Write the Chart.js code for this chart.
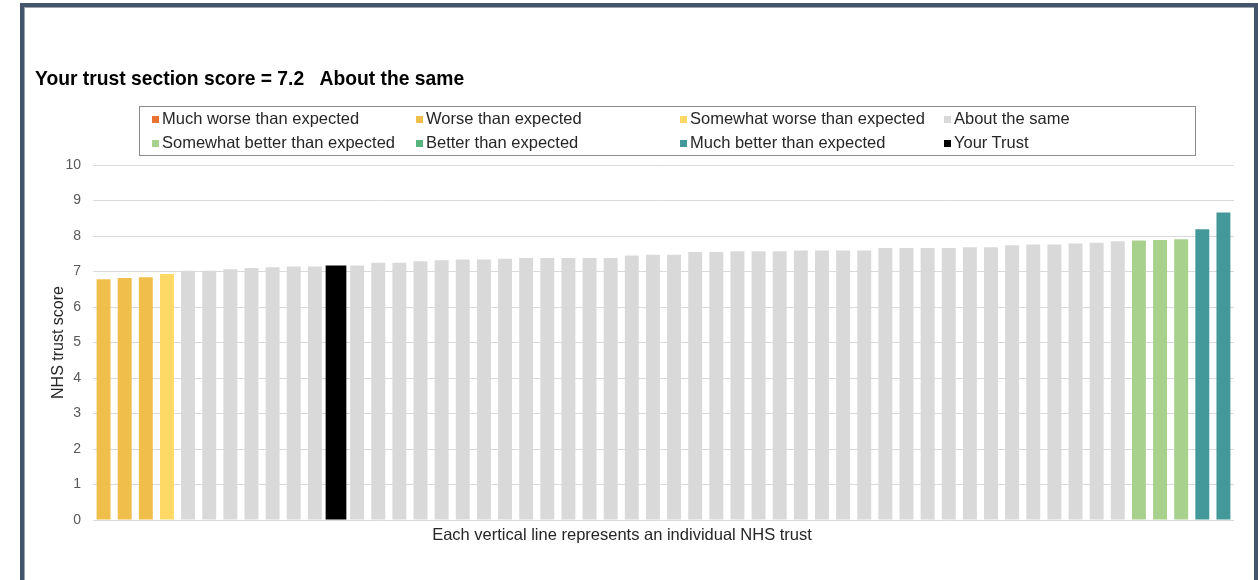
<!DOCTYPE html>
<html>
<head>
<meta charset="utf-8">
<title>NHS trust section score</title>
<script src="https://cdn.jsdelivr.net/npm/chart.js@4"></script>
<style>
    body { margin: 0; width: 1258px; height: 580px; overflow: hidden; background: #fff; font-family: "Liberation Sans", Arial, sans-serif; }
    .frame { position: absolute; left: 20px; top: 3px; width: 1230px; height: 620px; border: 4px solid #44546A; box-shadow: inset 1px 1px 0 #9AA3AE; }
    #chartTitle { position: absolute; left: 35px; top: 68px; font-size: 19.3px; font-weight: bold; color: #000; white-space: pre; }
    #legendBox { position: absolute; left: 139px; top: 106px; width: 1055px; height: 48px; border: 1px solid #8C8C8C; }
    .legend-item { position: absolute; font-size: 16.5px; color: #262626; white-space: nowrap; line-height: 19px; }
    .legend-item span { display: inline-block; width: 7px; height: 7px; margin-right: 3px; vertical-align: 1px; }
    #xTitle { position: absolute; left: 0; width: 1244px; top: 525px; text-align: center; font-size: 16.5px; color: #262626; }
    #measurementChart { position: absolute; left: 0; top: 0; }
</style>
</head>
<body>
<div class="frame"></div>
<canvas id="measurementChart" width="1258" height="580"></canvas>
<div id="chartTitle">Your trust section score = 7.2   About the same</div>
<div id="legendBox"></div>
<div id="xTitle">Each vertical line represents an individual NHS trust</div>
<script>
// legend categories and their colours
const bandLabels = ['Much worse than expected', 'Worse than expected', 'Somewhat worse than expected', 'About the same',
    'Somewhat better than expected', 'Better than expected', 'Much better than expected', 'Your Trust'];
const bandColors = ['#E97132', '#F0BF4B', '#FFD966', '#D9D9D9', '#A9D18E', '#57B47F', '#43999A', '#000000'];

// one score per trust, sorted low to high
const trustScores = [6.78, 6.82, 6.84, 6.93, 7.02, 7.02, 7.06, 7.10, 7.12, 7.14, 7.14, 7.17, 7.17, 7.25, 7.25, 7.29,
    7.32, 7.34, 7.34, 7.36, 7.38, 7.38, 7.38, 7.38, 7.38, 7.45, 7.47, 7.47, 7.55, 7.55, 7.57, 7.57, 7.57, 7.59, 7.59, 7.59,
    7.59, 7.66, 7.66, 7.66, 7.66, 7.68, 7.68, 7.74, 7.76, 7.76, 7.79, 7.81, 7.85, 7.87, 7.89, 7.91, 8.19, 8.66];

// which legend band each trust falls into (index into bandLabels)
const trustBands = [1, 1, 1, 2, 3, 3, 3, 3, 3, 3, 3, 7, 3, 3, 3, 3,
    3, 3, 3, 3, 3, 3, 3, 3, 3, 3, 3, 3, 3, 3, 3, 3, 3, 3, 3, 3,
    3, 3, 3, 3, 3, 3, 3, 3, 3, 3, 3, 3, 3, 4, 4, 4, 6, 6];

const yTicks = [0, 1, 2, 3, 4, 5, 6, 7, 8, 9, 10];

document.addEventListener('DOMContentLoaded', function() {
    const canvas = document.getElementById('measurementChart');
    const legendBox = document.getElementById('legendBox');

    // one dataset per band so the legend can be built from them
    const datasets = bandLabels.map(function(label, b) {
        return {
            label: label,
            data: trustScores.map((v, i) => trustBands[i] === b ? v : null),
            backgroundColor: bandColors[b],
            barPercentage: b === 7 ? 0.98 : 0.66,
            categoryPercentage: 1,
            grouped: false
        };
    });

    new Chart(canvas, {
        type: 'bar',
        data: {
            labels: trustScores.map((v, i) => 'Trust ' + (i + 1)),
            datasets: datasets
        },
        options: {
            responsive: false,
            animation: false,
            layout: { padding: { left: 49, right: 24, top: 165, bottom: 52 } },
            plugins: {
                legend: { display: false },
                tooltip: { enabled: false }
            },
            scales: {
                x: {
                    ticks: { display: false },
                    grid: { display: false },
                    border: { display: false }
                },
                y: {
                    min: 0,
                    max: 10,
                    afterBuildTicks: function(scale) {
                        scale.ticks = yTicks.map(v => ({ value: v }));
                    },
                    afterFit: function(scale) {
                        scale.width = 44;
                    },
                    ticks: {
                        color: '#595959',
                        font: { family: '"Liberation Sans", Arial', size: 14 },
                        padding: 12
                    },
                    grid: { color: '#D9D9D9', lineWidth: 1, drawTicks: false },
                    border: { display: false },
                    title: {
                        display: true,
                        text: 'NHS trust score',
                        color: '#262626',
                        font: { family: '"Liberation Sans", Arial', size: 16 },
                        padding: { top: 0, bottom: 0 }
                    }
                }
            }
        }
    });

    // HTML legend, 4 columns x 2 rows inside a bordered box
    const colLeft = [12, 276, 540, 804];
    const rowTop = [2, 26];
    datasets.forEach(function(ds, k) {
        const item = document.createElement('div');
        item.className = 'legend-item';
        item.style.left = colLeft[k % 4] + 'px';
        item.style.top = rowTop[Math.floor(k / 4)] + 'px';
        const swatch = document.createElement('span');
        swatch.style.background = ds.backgroundColor;
        item.appendChild(swatch);
        item.appendChild(document.createTextNode(ds.label));
        legendBox.appendChild(item);
    });
});
</script>
</body>
</html>
